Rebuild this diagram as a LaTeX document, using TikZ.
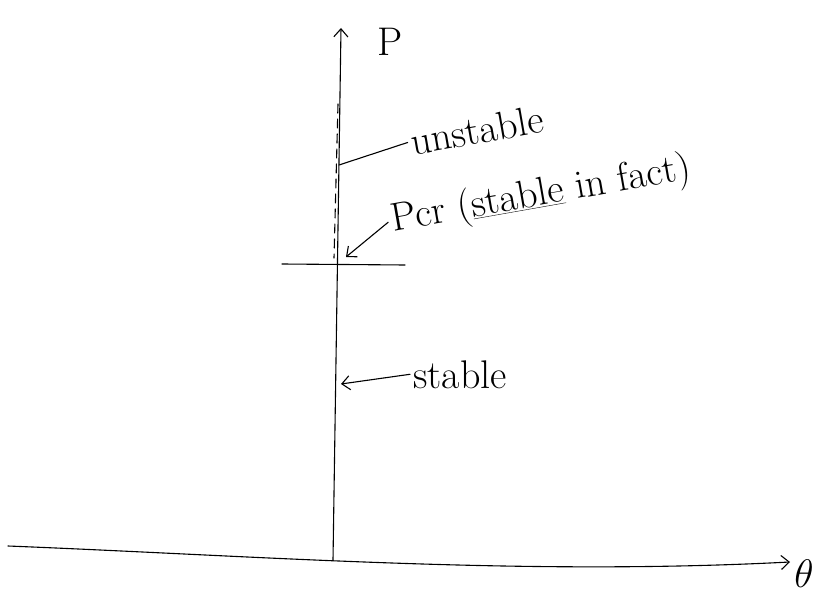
\documentclass[tikz,border=0pt]{standalone}
\usepackage{tikz}
\usetikzlibrary{arrows.meta}

\tikzset{
  hand/.style={line width=1.1pt, line cap=round},
  lbl/.style={font=\fontsize{40}{44}\selectfont, inner sep=3pt}
}

\begin{document}
\begin{tikzpicture}[x=1pt, y=-1pt, >={Straight Barb[length=8pt, width=14pt]}]
  \useasboundingbox (0,0) rectangle (817,607);
  % axes
  \coordinate (O) at (333,560);
  \coordinate (Ptop) at (341,28);
  \coordinate (Xl) at (8,546);
  \coordinate (Xr) at (790,562);
  \draw[hand, ->] (O) -- (Ptop);
  \draw[hand, ->] (Xl) .. controls (260,556) and (520,576) .. (Xr);
  \node[lbl] (Plbl) at (390,42) {P};
  \node[lbl] (thlbl) at (804,574) {\scalebox{1.6}{$\theta$}};
  % critical load level
  \coordinate (crl) at (282,264);
  \coordinate (crr) at (405,265);
  \draw[hand] (crl) -- (crr);
  \coordinate (dtop) at (338,104);
  \coordinate (dbot) at (334,258);
  \draw[hand, dash pattern=on 9pt off 6pt] (dtop) -- (dbot);
  % labels
  \node[lbl, rotate=10, anchor=base west] (unst) at (410,156) {unstable};
  \coordinate (unpt) at (339,165);
  \draw[hand] (unpt) -- (unst.west);
  \node[lbl, rotate=10, anchor=base west] (pcr) at (390,232) {Pcr (\underline{stable} in fact)};
  \coordinate (pcrpt) at (346,257);
  \draw[hand, ->] (pcr.west) -- (pcrpt);
  \node[lbl, anchor=base west] (stbl) at (410,388) {stable};
  \coordinate (stpt) at (341,384);
  \draw[hand, ->] (stbl.west) -- (stpt);
\end{tikzpicture}
\end{document}
